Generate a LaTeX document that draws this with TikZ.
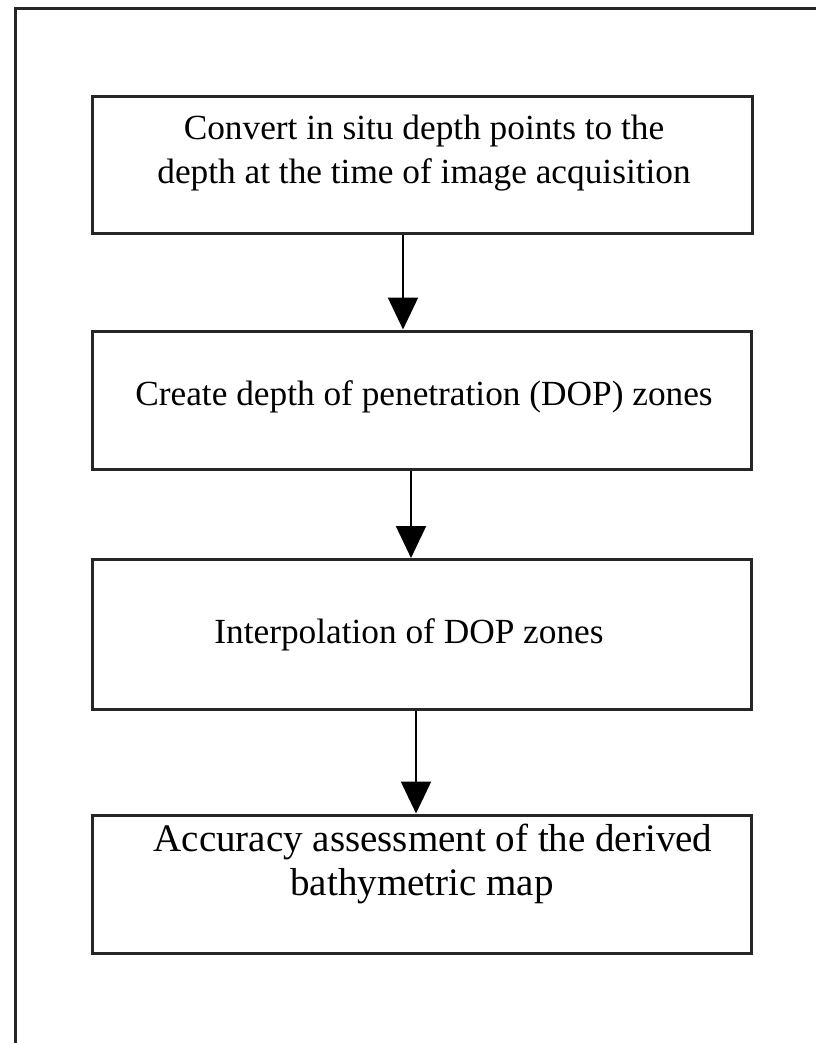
\documentclass[tikz,border=0pt]{standalone}
\usepackage{fontspec}
\setmainfont{Liberation Serif}
\usetikzlibrary{arrows.meta}
\begin{document}
\begin{tikzpicture}[x=1pt,y=-1pt,
  stepbox/.style={draw=black!85,line width=3pt,rectangle,inner sep=0pt},
  steptext/.style={align=center,inner sep=0pt,font=\fontsize{35.3}{44}\selectfont},
  flow/.style={draw=black,line width=2.2pt,-{Triangle[length=32pt,width=30pt]}},
  frame/.style={draw=black!85,line width=3pt}]
\useasboundingbox (0,0) rectangle (815,1043);
% outer frame (open on right and bottom)
\coordinate (fb) at (15,1045);
\coordinate (fc) at (15,9);
\coordinate (fr) at (817,9);
\draw[frame] (fb) -- (fc) -- (fr);
% boxes
\node[stepbox,minimum width=660pt,minimum height=136pt] (b1) at (422,165) {};
\node[stepbox,minimum width=659pt,minimum height=138pt] (b2) at (421.5,400) {};
\node[stepbox,minimum width=659pt,minimum height=150pt] (b3) at (421.5,634.5) {};
\node[stepbox,minimum width=659pt,minimum height=138pt] (b4) at (421.5,884) {};
% texts
\node[steptext] (t1) at (424,153) {Convert in situ depth points to the\\depth at the time of image acquisition};
\node[steptext] (t2) at (424,397) {Create depth of penetration (DOP) zones};
\node[steptext] (t3) at (409,635) {Interpolation of DOP zones};
\node[steptext,font=\fontsize{39}{44}\selectfont] (t4) at (433,864) {Accuracy assessment of the derived\\bathymetric map\hspace*{22pt}};
% arrows
\draw[flow] (b1.south -| 403,0) -- (b2.north -| 403,0);
\draw[flow] (b2.south -| 411,0) -- (b3.north -| 411,0);
\draw[flow] (b3.south -| 416,0) -- (b4.north -| 416,0);
\end{tikzpicture}
\end{document}
